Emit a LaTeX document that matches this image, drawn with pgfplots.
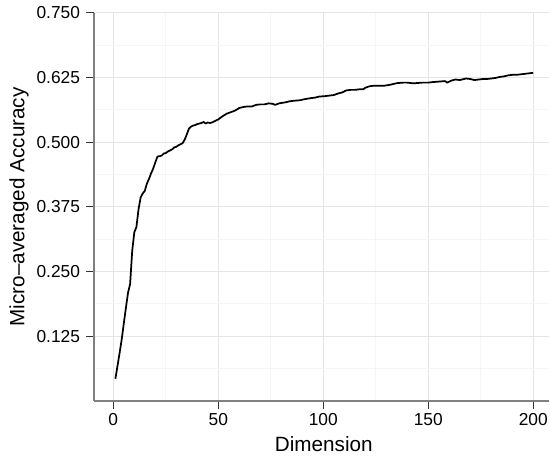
\documentclass[border=0pt]{standalone}
\usepackage{pgfplots}
\pgfplotsset{compat=1.18}
\usepackage{fontspec}
\setmainfont{Liberation Sans}

\definecolor{gridmajor}{gray}{0.90}
\definecolor{gridminor}{gray}{0.96}
\definecolor{axisgray}{gray}{0.50}
\definecolor{tickgray}{gray}{0.20}

\begin{document}
\begin{tikzpicture}
  % picture frame in px*0.75pt, panel south west at (0,0)
  \useasboundingbox (-70.5pt,-40.5pt) rectangle (342pt,300.75pt);
  \begin{axis}[
      at={(0,0)}, anchor=south west,
      width=341.25pt, height=291.2pt, scale only axis,
      xmin=-9.2, xmax=207.5,
      ymin=0, ymax=0.75,
      axis x line=bottom, axis y line=left,
      axis line style={-, axisgray, line width=0.9pt},
      xtick={0,50,100,150,200},
      ytick={0.125,0.25,0.375,0.5,0.625,0.75},
      minor xtick={25,75,125,175},
      minor ytick={0.0625,0.1875,0.3125,0.4375,0.5625,0.6875},
      grid=both,
      major grid style={gridmajor, line width=0.8pt},
      minor grid style={gridminor, line width=0.8pt},
      tick align=outside,
      major tick length=6pt,
      minor tick length=0pt,
      tick style={tickgray, line width=0.7pt},
      yticklabel style={xshift=-1pt, /pgf/number format/.cd, fixed, fixed zerofill, precision=3},
      /pgf/number format/assume math mode=true,
      ticklabel style={font=\fontsize{13}{15}\selectfont, black},
      xlabel={Dimension},
      ylabel={Micro–averaged Accuracy},
      every axis x label/.style={at={(axis description cs:0.505,-0.129)}, anchor=base,
        font=\fontsize{15.5}{18}\selectfont},
      every axis y label/.style={at={(axis description cs:-0.165,0.5)}, rotate=90, anchor=center,
        font=\fontsize{15.5}{18}\selectfont},
      clip=false,
    ]
    \addplot[black, line width=1.3pt, line join=round] coordinates {
      (1,0.043) (2,0.068) (3,0.093) (4,0.119) (5,0.150) (6,0.180) (7,0.209)
      (8,0.226) (9,0.290) (10,0.326) (11,0.336) (12,0.370) (13,0.393) (14,0.401)
      (15,0.406) (16,0.420) (17,0.429) (18,0.440) (19,0.449) (20,0.461) (21,0.472)
      (22,0.473) (23,0.474) (24,0.478) (25,0.479) (26,0.482) (27,0.484) (28,0.486)
      (29,0.490) (30,0.491) (31,0.494) (32,0.496) (33,0.498) (34,0.505) (35,0.515)
      (36,0.526) (37,0.530) (38,0.532) (39,0.533) (40,0.535) (41,0.536) (42,0.537)
      (43,0.539) (44,0.536) (45,0.538) (46,0.537) (47,0.538) (48,0.540) (49,0.542)
      (50,0.544) (52,0.550) (54,0.555) (56,0.558) (58,0.561) (60,0.566) (62,0.568)
      (64,0.569) (66,0.569) (68,0.572) (70,0.573) (72,0.573) (74,0.575) (76,0.574)
      (77,0.572) (79,0.575) (82,0.577) (84,0.579) (86,0.580) (89,0.581) (91,0.583)
      (94,0.585) (96,0.586) (98,0.588) (101,0.589) (103,0.590) (105,0.591) (107,0.594)
      (109,0.596) (111,0.600) (113,0.601) (115,0.601) (117,0.602) (119,0.602) (120,0.605)
      (122,0.608) (124,0.609) (127,0.609) (129,0.609) (132,0.611) (135,0.614) (138,0.615)
      (140,0.615) (142,0.614) (144,0.614) (147,0.615) (150,0.615) (152,0.616) (155,0.617)
      (158,0.618) (159,0.615) (161,0.619) (163,0.621) (165,0.620) (167,0.622) (168,0.623)
      (170,0.622) (172,0.620) (174,0.621) (176,0.622) (178,0.622) (180,0.623) (182,0.624)
      (184,0.626) (186,0.627) (188,0.629) (190,0.630) (192,0.630) (194,0.631) (196,0.632)
      (198,0.633) (200,0.634)
    };
  \end{axis}
\end{tikzpicture}
\end{document}
